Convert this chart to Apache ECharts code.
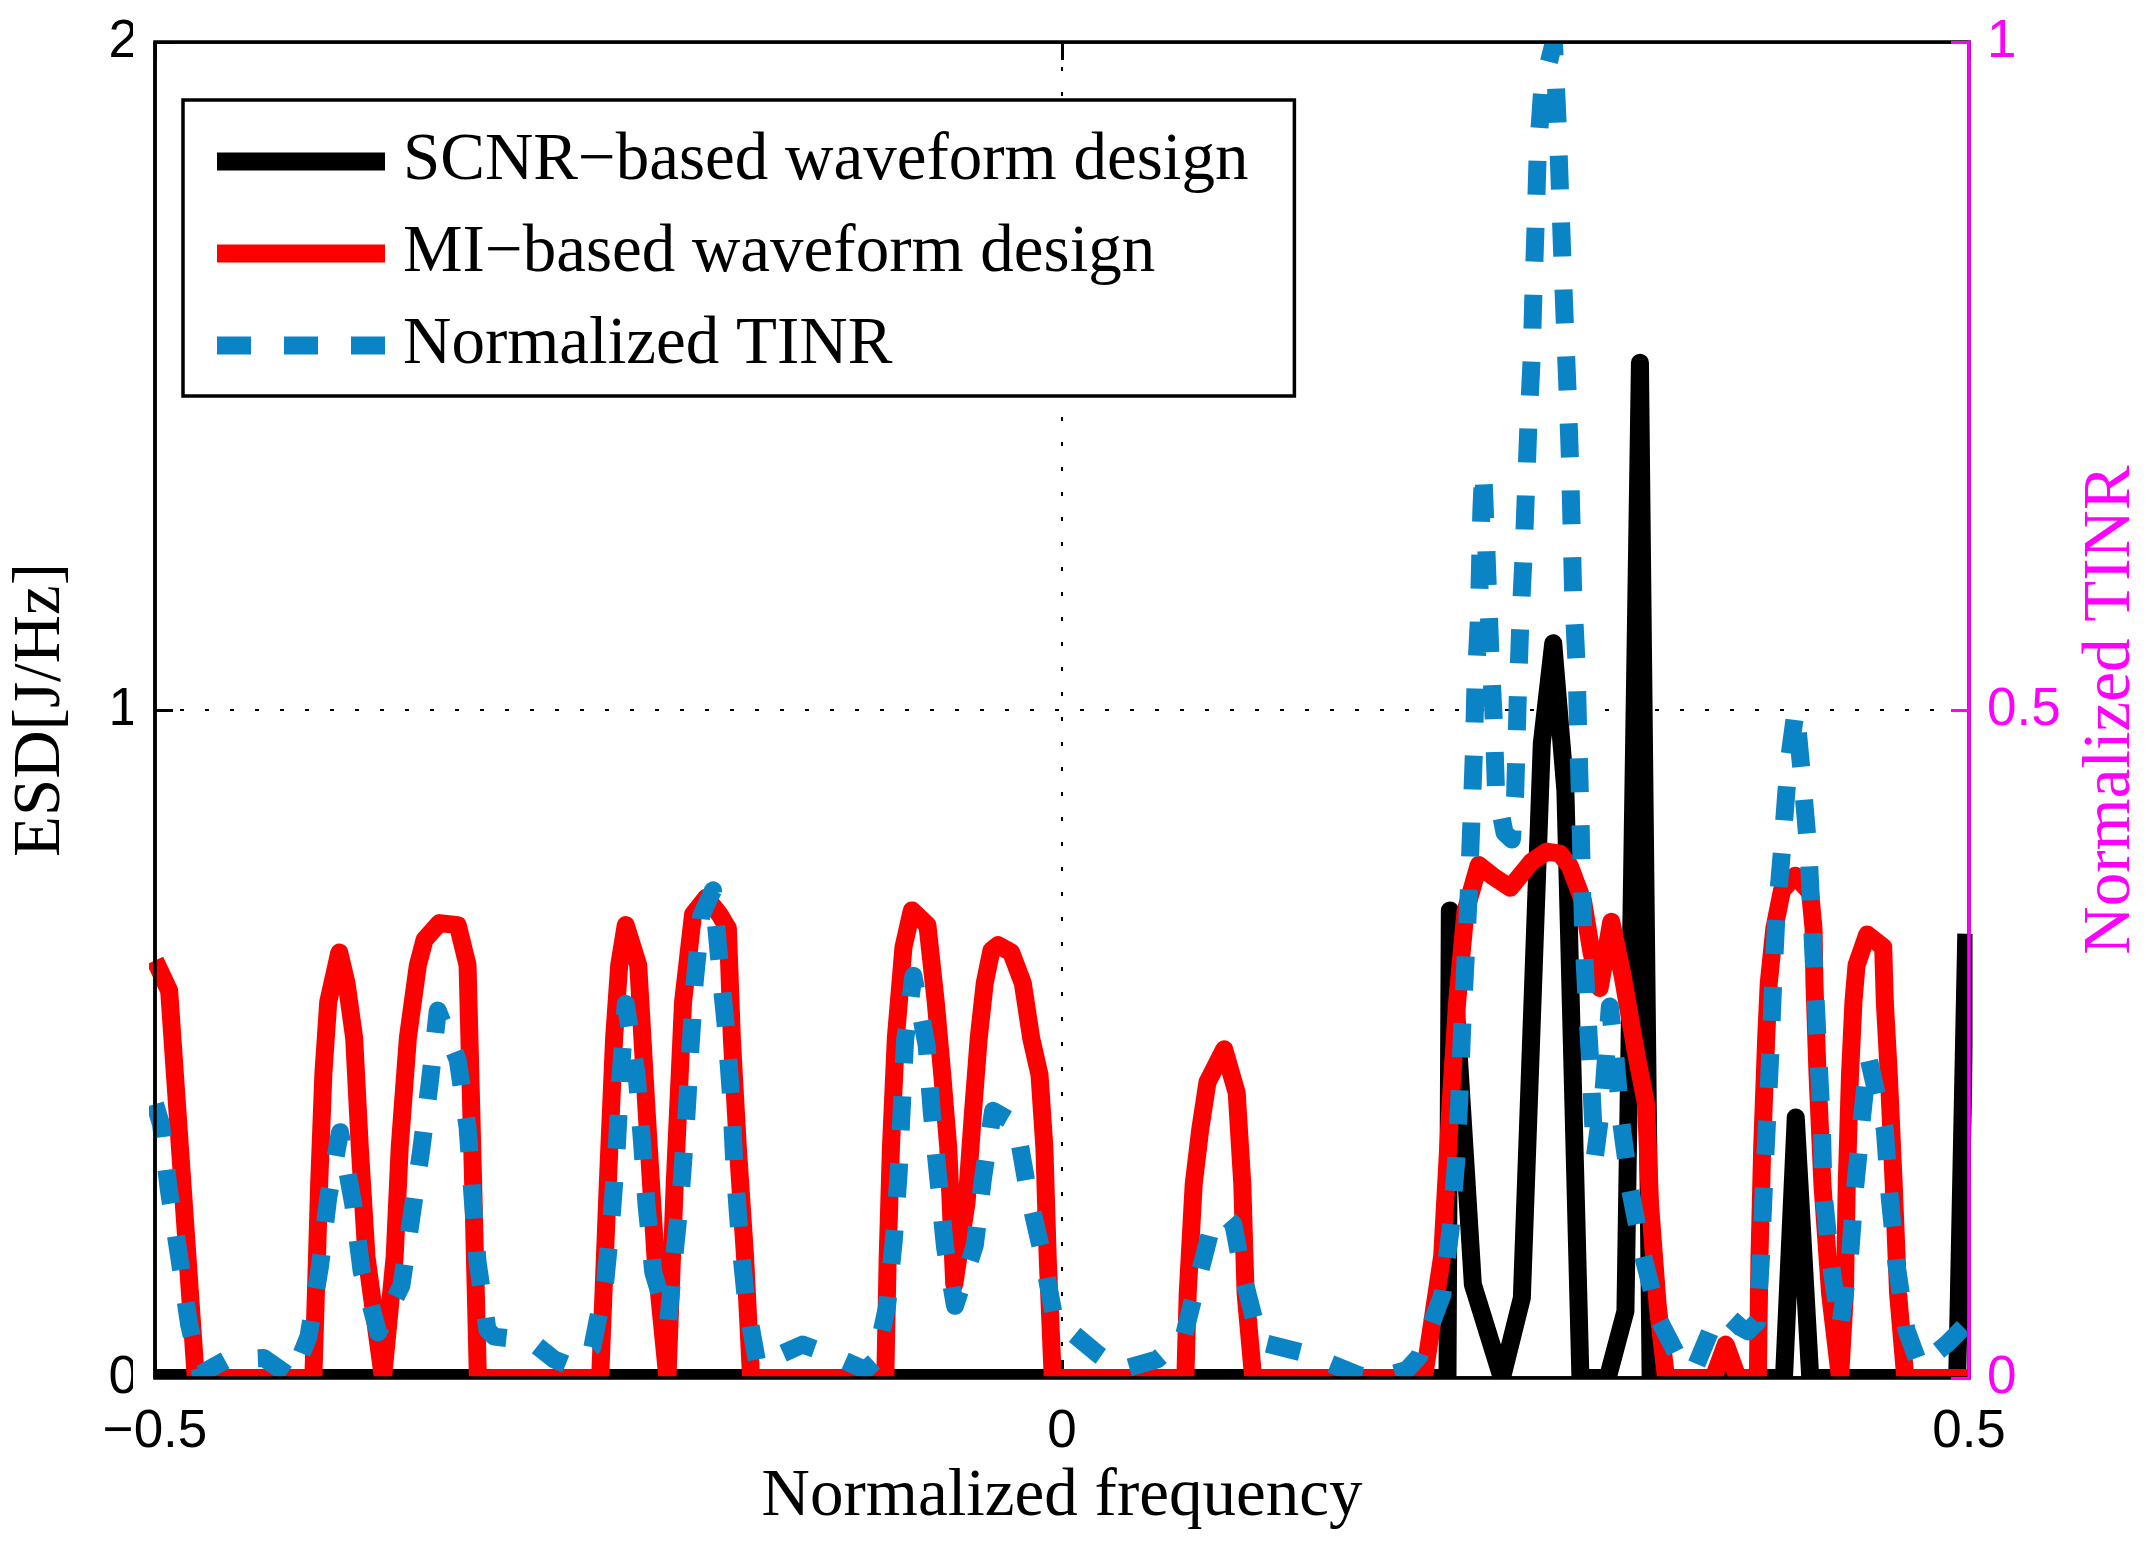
<!DOCTYPE html>
<html>
<head>
<meta charset="utf-8">
<script src="https://cdn.jsdelivr.net/npm/echarts@6/dist/echarts.min.js"></script>
<style>
html,body{margin:0;padding:0;background:#fff;}
#chart{width:2153px;height:1557px;}
</style>
</head>
<body>
<div id="chart"></div>
<script>
// ---- Data ----
const seriesNames = ['SCNR\u2212based waveform design', 'MI\u2212based waveform design', 'Normalized TINR'];
const xTicks = [-0.5, 0, 0.5];
const esdTicks = [0, 1, 2];
const tinrTicks = [0, 0.5, 1];

// SCNR-based ESD (left axis)
const scnrFreq = [-0.5, 0.2125, 0.2138, 0.2265, 0.2425, 0.2535, 0.2645, 0.2708, 0.2775, 0.2858, 0.3008, 0.3106, 0.3186, 0.3245, 0.398, 0.4045, 0.4125, 0.4935, 0.4985];
const scnrEsd  = [0, 0, 0.70, 0.14, 0, 0.12, 0.95, 1.10, 0.88, 0, 0, 0.10, 1.52, 0, 0, 0.39, 0, 0, 0.665];

// MI-based ESD (left axis)
const miFreq = [-0.5, -0.4922, -0.4775,
  -0.4127, -0.4095, -0.4072, -0.4045, -0.3984, -0.3944, -0.3902, -0.3871, -0.3834, -0.3743,
  -0.3679, -0.3651, -0.3606, -0.3551, -0.3514, -0.3432, -0.3331, -0.3277, -0.3246, -0.322,
  -0.2546, -0.2504, -0.2469, -0.2441, -0.2405, -0.2336, -0.229, -0.2241, -0.2175,
  -0.2135, -0.2089, -0.2034, -0.1961, -0.1888, -0.1842, -0.182, -0.1787, -0.1747, -0.1714,
  -0.0974, -0.0961, -0.0943, -0.0916, -0.0874, -0.0828, -0.0742, -0.0696, -0.066, -0.0627, -0.0594,
  -0.0526, -0.049, -0.0459, -0.0426, -0.0389, -0.0353, -0.028, -0.0216, -0.017, -0.0124, -0.0097, -0.0079, -0.0051,
  0.068, 0.0693, 0.0726, 0.0762, 0.0802, 0.0894, 0.0963, 0.0994, 0.1012, 0.1054,
  0.1995, 0.2096, 0.2142, 0.2178, 0.2224, 0.2297, 0.2371, 0.2471, 0.2589, 0.2672, 0.2745, 0.28, 0.2873, 0.2919, 0.2964, 0.3028, 0.3092, 0.3165, 0.322, 0.3242, 0.3284, 0.333,
  0.3591, 0.3659, 0.3726,
  0.3836, 0.3845, 0.386, 0.3882, 0.3896, 0.3927, 0.3969, 0.4042, 0.4124, 0.4143, 0.4148, 0.4165, 0.4192, 0.4234, 0.4289,
  0.4316, 0.4326, 0.4344, 0.4363, 0.438, 0.4439, 0.4527, 0.4536, 0.4558, 0.4585, 0.4609, 0.4649, 0.5];
const miEsd = [0.625, 0.58, 0,
  0, 0.29, 0.454, 0.563, 0.637, 0.591, 0.509, 0.345, 0.181, 0,
  0.181, 0.345, 0.509, 0.618, 0.656, 0.681, 0.678, 0.618, 0.29, 0,
  0, 0.29, 0.509, 0.618, 0.678, 0.618, 0.40, 0.181, 0,
  0.29, 0.563, 0.694, 0.719, 0.694, 0.673, 0.509, 0.345, 0.181, 0,
  0, 0.181, 0.345, 0.509, 0.645, 0.70, 0.678, 0.563, 0.454, 0.345, 0.14,
  0.263, 0.40, 0.509, 0.591, 0.64, 0.648, 0.637, 0.591, 0.509, 0.454, 0.345, 0.181, 0,
  0, 0.127, 0.29, 0.372, 0.443, 0.492, 0.427, 0.29, 0.127, 0,
  0, 0.183, 0.41, 0.562, 0.698, 0.768, 0.752, 0.734, 0.773, 0.788, 0.785, 0.766, 0.713, 0.637, 0.584, 0.683, 0.60, 0.486, 0.41, 0.259, 0.108, 0,
  0, 0.05, 0,
  0, 0.181, 0.345, 0.509, 0.591, 0.673, 0.73, 0.752, 0.727, 0.673, 0.591, 0.454, 0.29, 0.127, 0,
  0.127, 0.29, 0.454, 0.563, 0.618, 0.664, 0.645, 0.563, 0.454, 0.29, 0.127, 0, 0];

// Normalized TINR (right axis)
const tinrFreq = [-0.5, -0.4967, -0.4923, -0.4867, -0.4812, -0.4748, -0.4602, -0.44, -0.4245,
  -0.4154, -0.409, -0.4045, -0.398, -0.3907, -0.3861, -0.377,
  -0.3642, -0.3587, -0.3533, -0.3487, -0.3441, -0.3331, -0.3277, -0.325, -0.3222, -0.3167,
  -0.313, -0.293, -0.2801, -0.271, -0.2589,
  -0.2518, -0.2482, -0.2454, -0.2435, -0.2405, -0.2345, -0.2317, -0.229, -0.2253, -0.2171,
  -0.2135, -0.2098, -0.2071, -0.2049, -0.2025, -0.1989, -0.1924, -0.1888, -0.1851, -0.1824, -0.1806, -0.1779, -0.1742, -0.1678,
  -0.1431, -0.1285, -0.1084, -0.1029,
  -0.0965, -0.0928, -0.0901, -0.0883, -0.0865, -0.0819, -0.0746, -0.0718, -0.0681, -0.0645, -0.059,
  -0.0481, -0.0435, -0.038, -0.0252, -0.0188, -0.0106, -0.0042,
  0.0196, 0.0323, 0.0525, 0.0671, 0.0735, 0.0817, 0.0899, 0.0945, 0.0999, 0.1091, 0.1328, 0.1639, 0.175, 0.19, 0.1968,
  0.2096, 0.2142, 0.2173, 0.2191, 0.2206, 0.2224, 0.2242, 0.2257, 0.227, 0.2279, 0.2297, 0.2312, 0.2322, 0.2338, 0.2361, 0.238, 0.2392,
  0.244, 0.248, 0.2498, 0.2513, 0.2526, 0.2544, 0.2557, 0.2571, 0.2589, 0.2599, 0.2611, 0.2622, 0.2648, 0.2712,
  0.2732, 0.2745, 0.2758, 0.2772, 0.2787, 0.28, 0.2809, 0.2818, 0.2836, 0.2845, 0.2855, 0.2864, 0.2873, 0.2891, 0.2913, 0.2937,
  0.2986, 0.302, 0.305, 0.3083, 0.3132, 0.3202, 0.3293, 0.343, 0.3494,
  0.3586, 0.3659, 0.374, 0.378, 0.3832, 0.3854, 0.3869, 0.3887, 0.3905, 0.392, 0.3938, 0.3969, 0.4005, 0.4045,
  0.408, 0.4116, 0.4134, 0.4152, 0.417, 0.4189, 0.4198, 0.4234, 0.4289,
  0.4344, 0.4371, 0.4408, 0.4445, 0.4536, 0.4563, 0.46, 0.4655, 0.4728, 0.4801, 0.4874, 0.4985];
const tinrVal = [0.205, 0.19, 0.14, 0.091, 0.04, 0.003, 0.014, 0.015, 0,
  0.031, 0.084, 0.135, 0.184, 0.13, 0.08, 0.034,
  0.069, 0.12, 0.17, 0.219, 0.275, 0.238, 0.188, 0.137, 0.087, 0.036,
  0.031, 0.028, 0.014, 0.009, 0.023,
  0.072, 0.122, 0.173, 0.223, 0.28, 0.227, 0.18, 0.129, 0.079, 0.042,
  0.094, 0.144, 0.195, 0.245, 0.296, 0.346, 0.365, 0.311, 0.26, 0.21, 0.159, 0.109, 0.058, 0.01,
  0.025, 0.018, 0.006, 0.013,
  0.053, 0.102, 0.152, 0.203, 0.253, 0.301, 0.249, 0.199, 0.148, 0.098, 0.054,
  0.099, 0.15, 0.2, 0.19, 0.14, 0.091, 0.045,
  0.018, 0.006, 0.014, 0.031, 0.066, 0.109, 0.122, 0.115, 0.076, 0.027, 0.019, 0.002, 0, 0.006, 0.016,
  0.062, 0.111, 0.162, 0.211, 0.262, 0.311, 0.362, 0.417, 0.466, 0.517, 0.565, 0.65, 0.68, 0.625, 0.544, 0.493, 0.441,
  0.408, 0.403, 0.436, 0.512, 0.563, 0.614, 0.662, 0.713, 0.763, 0.813, 0.864, 0.915, 0.966, 1.0,
  0.94, 0.889, 0.839, 0.789, 0.739, 0.688, 0.638, 0.586, 0.536, 0.487, 0.436, 0.385, 0.334, 0.285, 0.234, 0.165,
  0.216, 0.278, 0.241, 0.191, 0.141, 0.092, 0.043, 0.007, 0.009,
  0.039, 0.048, 0.038, 0.035, 0.042, 0.092, 0.143, 0.193, 0.244, 0.294, 0.345, 0.395, 0.46, 0.5,
  0.45, 0.393, 0.341, 0.29, 0.24, 0.189, 0.139, 0.09, 0.038,
  0.091, 0.141, 0.192, 0.24, 0.186, 0.135, 0.085, 0.036, 0.009, 0.017, 0.025, 0.04];

// ---- Chart ----
const zip = (xs, ys) => xs.map((x, i) => [x, ys[i]]);
const serif = 'Liberation Serif';
const sans = 'Liberation Sans';
const MAGENTA = '#ff00ff';
const BLUE = '#0b84c6';
const G = {left: 149, right: 180.5, top: 42, bottom: 179};
const W = 2153, H = 1557;

const chart = echarts.init(document.getElementById('chart'), null, {renderer: 'canvas', width: W, height: H});

const axisLabelBase = {fontFamily: sans, fontSize: 53};

const option = {
  backgroundColor: '#fff',
  animation: false,
  grid: {left: G.left, right: G.right, top: G.top, bottom: G.bottom, show: true,
         borderColor: '#000', borderWidth: 3.5, backgroundColor: 'transparent', z: 4},
  legend: {
    data: seriesNames,
    orient: 'vertical',
    left: 183, top: 100,
    padding: [28, 46, 17, 25],
    itemWidth: 168, itemHeight: 66, itemGap: 25,
    borderColor: '#000', borderWidth: 3.5, backgroundColor: '#fff',
    selectedMode: false,
    z: 6,
    itemStyle: {opacity: 0},
    lineStyle: {width: 18},
    textStyle: {fontFamily: serif, fontSize: 67, color: '#000', padding: [0, 0, 0, 13]}
  },
  xAxis: [{
    type: 'value', position: 'bottom', min: xTicks[0], max: xTicks[xTicks.length - 1],
    interval: xTicks[1] - xTicks[0],
    name: 'Normalized frequency', nameLocation: 'middle', nameGap: 86,
    nameTextStyle: {fontFamily: serif, fontSize: 67, color: '#000'},
    axisLine: {show: true, onZero: false, lineStyle: {color: '#000', width: 3.5}},
    axisTick: {show: true, inside: true, length: 18, lineStyle: {color: '#000', width: 3}},
    axisLabel: Object.assign({color: '#000', margin: 28,
      formatter: v => (v < 0 ? '\u2212' + Math.abs(v) : String(v))}, axisLabelBase),
    splitLine: {show: true, lineStyle: {color: '#000', width: 2, type: [4, 21]}}
  }, {
    type: 'value', position: 'top', min: xTicks[0], max: xTicks[xTicks.length - 1],
    interval: xTicks[1] - xTicks[0],
    axisLine: {show: true, onZero: false, lineStyle: {color: '#000', width: 3.5}},
    axisTick: {show: true, inside: true, length: 18, lineStyle: {color: '#000', width: 3}},
    axisLabel: {show: false}, splitLine: {show: false}
  }],
  yAxis: [{
    type: 'value', position: 'left', min: esdTicks[0], max: esdTicks[esdTicks.length - 1],
    interval: esdTicks[1] - esdTicks[0],
    name: 'ESD[J/Hz]', nameLocation: 'middle', nameGap: 80,
    nameTextStyle: {fontFamily: serif, fontSize: 67, color: '#000'},
    axisLine: {show: true, onZero: false, lineStyle: {color: '#000', width: 3.5}},
    axisTick: {show: true, inside: true, length: 18, lineStyle: {color: '#000', width: 3}},
    axisLabel: Object.assign({color: '#000', margin: 17}, axisLabelBase),
    splitLine: {show: true, lineStyle: {color: '#000', width: 2, type: [4, 21]}}
  }, {
    type: 'value', position: 'right', min: tinrTicks[0], max: tinrTicks[tinrTicks.length - 1],
    interval: tinrTicks[1] - tinrTicks[0],
    z: 5,
    name: 'Normalized TINR', nameLocation: 'middle', nameGap: 109,
    nameTextStyle: {fontFamily: serif, fontSize: 67, color: MAGENTA},
    axisLine: {show: true, onZero: false, lineStyle: {color: MAGENTA, width: 3.5}},
    axisTick: {show: true, inside: true, length: 18, lineStyle: {color: MAGENTA, width: 3}},
    axisLabel: Object.assign({color: MAGENTA, margin: 18}, axisLabelBase),
    splitLine: {show: false}
  }],
  graphic: [
    {type: 'rect', z: 3, silent: true, shape: {x: 133, y: H - G.bottom, width: W - G.right - 133 + 16, height: 20}, style: {fill: '#fff'}},
    {type: 'rect', z: 3, silent: true, shape: {x: 133, y: G.top - 20, width: W - G.right - 133 + 16, height: 20}, style: {fill: '#fff'}},
    {type: 'rect', z: 3, silent: true, shape: {x: 133, y: G.top - 20, width: G.left - 133, height: H - G.top - G.bottom + 40}, style: {fill: '#fff'}},
    {type: 'rect', z: 3, silent: true, shape: {x: W - G.right, y: G.top - 20, width: 15, height: H - G.top - G.bottom + 40}, style: {fill: '#fff'}}
  ],
  series: [{
    name: seriesNames[0], type: 'line', xAxisIndex: 0, yAxisIndex: 0,
    data: zip(scnrFreq, scnrEsd), symbol: 'none', z: 2,
    itemStyle: {color: '#000'},
    lineStyle: {color: '#000', width: 18, join: 'round'}
  }, {
    name: seriesNames[1], type: 'line', xAxisIndex: 0, yAxisIndex: 0,
    data: zip(miFreq, miEsd), symbol: 'none', z: 2,
    itemStyle: {color: '#ff0000'},
    lineStyle: {color: '#ff0000', width: 18, join: 'round'}
  }, {
    name: seriesNames[2], type: 'line', xAxisIndex: 0, yAxisIndex: 1,
    data: zip(tinrFreq, tinrVal), symbol: 'none', z: 2,
    itemStyle: {color: BLUE},
    lineStyle: {color: BLUE, width: 18, type: [34, 33], join: 'round'}
  }]
};
chart.setOption(option);
</script>
</body>
</html>
